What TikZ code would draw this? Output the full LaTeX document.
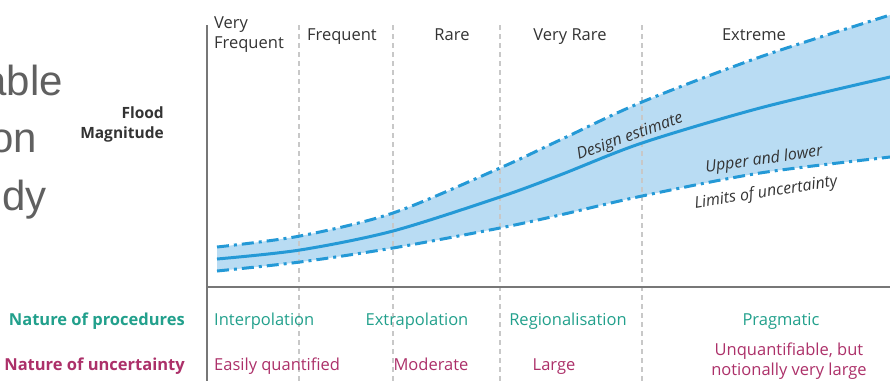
\documentclass[tikz,border=0pt]{standalone}
\usepackage{fontspec}
\setmainfont{Open Sans}
\newfontfamily\bigfont{Liberation Sans}
\definecolor{txt}{HTML}{333333}
\definecolor{biggray}{HTML}{606060}
\definecolor{axisgray}{HTML}{777777}
\definecolor{divgray}{HTML}{C8C8C8}
\definecolor{bandblue}{HTML}{B9DCF3}
\definecolor{lineblue}{HTML}{2499D6}
\definecolor{teal}{HTML}{22A08C}
\definecolor{plum}{HTML}{AC3069}
\tikzset{
  axisline/.style={draw=axisgray, line width=2pt},
  divider/.style={draw=divgray, line width=1.1pt, dash pattern=on 5pt off 4pt},
  bandfill/.style={fill=bandblue},
  limitline/.style={draw=lineblue, line width=3pt, dash pattern=on 12pt off 5pt on 3pt off 5pt},
  estline/.style={draw=lineblue, line width=3pt},
  hdr/.style={text=txt, font=\fontsize{16.5}{20}\selectfont, inner sep=0pt},
  ylab/.style={text=txt, font=\fontsize{15.5}{20}\selectfont\bfseries, inner sep=0pt, align=right},
  bandlab/.style={text=txt, font=\fontsize{16}{19}\selectfont\itshape, inner sep=0pt},
  proc/.style={text=teal, font=\fontsize{16.5}{20}\selectfont, inner sep=0pt},
  unc/.style={text=plum, font=\fontsize{16.5}{20}\selectfont, inner sep=0pt},
  rowhead/.style={font=\fontsize{16.5}{20}\selectfont\bfseries, inner sep=0pt},
  biglab/.style={text=biggray, font=\bigfont\fontsize{42}{50}\selectfont, inner sep=0pt},
}
\begin{document}
\begin{tikzpicture}[x=1pt, y=-1pt]
\useasboundingbox (0,0) rectangle (890,381);
\clip (0,0) rectangle (890,381);

% cut-off slide text on the left
\node[biglab, anchor=base east] (w1) at (63,95) {able};
\node[biglab, anchor=base east] (w2) at (37,152) {on};
\node[biglab, anchor=base east] (w3) at (47,210) {udy};

% uncertainty band
\fill[bandfill] plot[smooth] coordinates {(217,247) (300,236) (393,213) (500,168) (560,140) (642,102) (760,57) (890,15) (900,12)}
  -- plot[smooth] coordinates {(900,156) (890,157) (760,173) (642,196) (560,215) (500,228) (393,248) (300,262) (217,271)} -- cycle;

% dividers
\foreach \x/\n in {299/d1, 393/d2, 500/d3, 642/d4} {
  \coordinate (\n t) at (\x,25);
  \coordinate (\n b) at (\x,381);
  \draw[divider] (\n t) -- (\n b);
}

% axes
\coordinate (axtop) at (207,25);
\coordinate (axbot) at (207,381);
\coordinate (hl) at (207,287);
\coordinate (hr) at (890,287);
\draw[axisline] (axtop) -- (axbot);
\draw[axisline] (hl) -- (hr);

% curves
\draw[limitline] plot[smooth] coordinates {(217,247) (300,236) (393,213) (500,168) (560,140) (642,102) (760,57) (890,15) (900,12)};
\draw[limitline] plot[smooth] coordinates {(217,271) (300,262) (393,248) (500,228) (560,215) (642,196) (760,173) (890,157) (900,156)};
\draw[estline] plot[smooth] coordinates {(217,259) (300,250) (393,231) (500,197) (560,175) (642,143) (760,108) (890,77) (900,75)};

% headers
\node[hdr, anchor=north west, align=left] (h1) at (214,17) {Very\\Frequent};
\node[hdr, anchor=base] (h2) at (342,40) {Frequent};
\node[hdr, anchor=base] (h3) at (452,40) {Rare};
\node[hdr, anchor=base] (h4) at (570,40) {Very Rare};
\node[hdr, anchor=base] (h5) at (754,40) {Extreme};

% y label
\node[ylab, anchor=north east] (ylab) at (164,107) {Flood\\Magnitude};

% band labels
\node[bandlab, rotate=20] (de) at (630,137) {Design estimate};
\node[bandlab, rotate=8] (ul) at (764,160) {Upper and lower};
\node[bandlab, rotate=9] (lu) at (766,193) {Limits of uncertainty};

% rows
\node[rowhead, text=teal, anchor=base east] (rp) at (185,325) {Nature of procedures};
\node[rowhead, text=plum, anchor=base east] (ru) at (185,370) {Nature of uncertainty};

\node[proc, anchor=base west] (p1) at (214,325) {Interpolation};
\node[proc, anchor=base] (p2) at (417,325) {Extrapolation};
\node[proc, anchor=base] (p3) at (568,325) {Regionalisation};
\node[proc, anchor=base] (p4) at (781,325) {Pragmatic};

\node[unc, anchor=base west] (u1) at (214,370) {Easily quantified};
\node[unc, anchor=base] (u2) at (431,370) {Moderate};
\node[unc, anchor=base] (u3) at (554,370) {Large};
\node[unc, anchor=north, align=center] (u4) at (789,343) {Unquantifiable, but\\notionally very large};
\end{tikzpicture}
\end{document}
